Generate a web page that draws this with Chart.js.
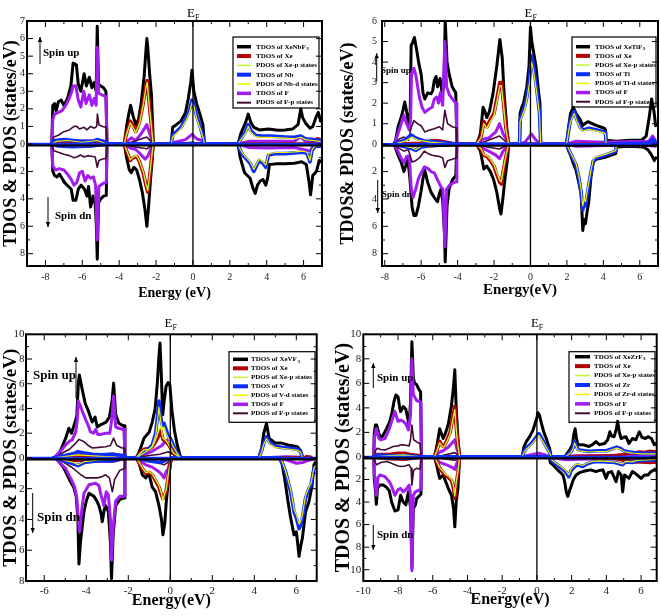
<!DOCTYPE html>
<html><head><meta charset="utf-8">
<script src="https://cdn.jsdelivr.net/npm/chart.js@4.4.1/dist/chart.umd.min.js"></script>
<style>
html,body{margin:0;padding:0;background:#fff;}
body{width:661px;height:616px;position:relative;overflow:hidden;}
canvas{position:absolute;display:block;}
</style></head><body>
<canvas id="c1" width="330" height="305" style="left:0;top:0"></canvas>
<canvas id="c2" width="331" height="305" style="left:330px;top:0"></canvas>
<canvas id="c3" width="330" height="311" style="left:0;top:305px"></canvas>
<canvas id="c4" width="331" height="311" style="left:330px;top:305px"></canvas>
<script>
// ---------------- DATA (energy eV, DOS states/eV; spin-down stored negative) ----------------
// Panel 1: XeNbF3
const p1_xticks = [-8,-6,-4,-2,0,2,4,6];
const p1_yticks = [-8,-6,-4,-2,0,1,2,3,4,5,6,7];
const p1_tot_up = [[-7.66,0],[-7.6,2.2],[-7.5,2.3],[-7.42,1.9],[-7.3,2.4],[-7.15,2.5],[-7.0,2.2],[-6.8,2.6],[-6.62,3.3],[-6.5,4.6],[-6.32,4.5],[-6.22,3.4],[-6.08,3.0],[-5.9,4.0],[-5.78,3.3],[-5.62,3.8],[-5.48,3.2],[-5.36,3.5],[-5.25,3.0],[-5.19,6.7],[-5.12,3.4],[-5.0,3.3],[-4.85,3.2],[-4.72,3.0],[-4.66,0],[-3.72,0],[-3.6,1.0],[-3.5,1.6],[-3.38,2.2],[-3.25,1.6],[-3.1,1.1],[-2.95,1.4],[-2.8,2.4],[-2.65,3.8],[-2.55,5.3],[-2.5,6.0],[-2.45,5.5],[-2.35,4.0],[-2.25,2.8],[-2.18,1.0],[-2.15,0],[-1.18,0],[-1.1,0.95],[-0.9,1.1],[-0.65,1.3],[-0.4,1.8],[-0.25,2.6],[-0.12,3.5],[-0.05,4.2],[0.05,3.0],[0.2,2.3],[0.35,1.8],[0.54,1.1],[0.63,0],[2.45,0],[2.6,0.6],[2.85,1.2],[3.0,1.7],[3.15,1.2],[3.3,0.95],[3.6,0.8],[4.1,0.85],[4.6,0.78],[5.0,0.8],[5.4,0.85],[5.7,1.1],[5.85,2.0],[5.95,1.5],[6.1,1.2],[6.35,0.9],[6.5,1.0],[6.7,1.6],[6.8,1.8],[6.92,1.3]];
const p1_tot_dn = [[-7.66,0],[-7.6,-2.0],[-7.5,-2.3],[-7.38,-2.4],[-7.24,-2.2],[-7.1,-2.5],[-6.97,-2.8],[-6.75,-3.1],[-6.6,-3.3],[-6.5,-4.1],[-6.35,-4.1],[-6.22,-3.3],[-6.06,-3.0],[-5.88,-3.3],[-5.75,-3.8],[-5.66,-3.1],[-5.55,-4.6],[-5.42,-3.8],[-5.3,-4.4],[-5.24,-5.9],[-5.19,-8.4],[-5.12,-4.3],[-5.0,-4.0],[-4.85,-3.8],[-4.7,-3.75],[-4.66,0],[-3.72,0],[-3.6,-1.0],[-3.45,-1.9],[-3.35,-2.1],[-3.2,-1.7],[-3.05,-1.9],[-2.9,-2.6],[-2.75,-3.5],[-2.6,-4.8],[-2.5,-6.0],[-2.42,-4.8],[-2.3,-2.6],[-2.2,-1.0],[-2.16,0],[2.45,0],[2.55,-0.9],[2.66,-1.45],[2.8,-2.1],[2.95,-2.3],[3.1,-2.5],[3.25,-3.2],[3.38,-3.6],[3.5,-3.0],[3.65,-2.7],[3.8,-2.6],[3.95,-3.0],[4.05,-2.5],[4.15,-1.5],[4.5,-1.45],[5.0,-1.45],[5.5,-1.4],[5.9,-1.3],[6.15,-1.5],[6.3,-2.8],[6.38,-3.7],[6.5,-2.3],[6.7,-2.0],[6.85,-1.2],[6.95,-1.3]];
const p1_xe_up = [[-7.66,0],[-7.0,0.1],[-5.5,0.15],[-4.66,0],[-3.72,0],[-3.6,0.6],[-3.4,1.3],[-3.25,1.05],[-3.1,0.7],[-2.9,1.25],[-2.7,2.3],[-2.55,3.3],[-2.48,3.6],[-2.4,2.6],[-2.25,1.0],[-2.16,0],[6.4,0],[6.6,0.2],[6.75,0.3],[6.9,0.25]];
const p1_xe_dn = [[-3.72,0],[-3.6,-0.5],[-3.4,-1.2],[-3.25,-1.0],[-3.05,-0.9],[-2.9,-1.3],[-2.7,-2.1],[-2.55,-3.0],[-2.45,-3.5],[-2.35,-2.4],[-2.22,-0.8],[-2.16,0]];
const p1_xep_up = [[-3.72,0],[-3.6,0.55],[-3.4,1.2],[-3.25,0.95],[-3.1,0.65],[-2.9,1.15],[-2.7,2.2],[-2.55,3.2],[-2.48,3.5],[-2.4,2.5],[-2.25,0.95],[-2.16,0]];
const p1_xep_dn = [[-3.72,0],[-3.6,-0.45],[-3.4,-1.15],[-3.25,-0.95],[-3.05,-0.85],[-2.9,-1.25],[-2.7,-2.0],[-2.55,-2.9],[-2.45,-3.4],[-2.35,-2.3],[-2.22,-0.75],[-2.16,0]];
const p1_m_up = [[-7.66,0],[-7.5,0.2],[-7.0,0.25],[-6.5,0.2],[-6.0,0.15],[-5.5,0.15],[-5.2,0.25],[-4.7,0.1],[-4.66,0],[-1.18,0],[-1.1,0.5],[-0.9,0.7],[-0.65,0.95],[-0.4,1.4],[-0.2,1.9],[-0.05,2.5],[0.05,2.3],[0.2,1.6],[0.4,0.95],[0.54,0.45],[0.63,0],[2.45,0],[2.6,0.3],[2.85,0.7],[3.0,1.1],[3.15,0.75],[3.4,0.5],[3.7,0.45],[4.2,0.45],[5.0,0.4],[5.5,0.38],[5.85,0.45],[6.1,0.3],[6.5,0.25],[6.9,0.2]];
const p1_m_dn = [[-7.66,0],[-7.3,-0.15],[-6.5,-0.2],[-5.5,-0.15],[-4.66,0],[2.45,0],[2.55,-0.4],[2.7,-0.8],[2.9,-1.1],[3.1,-1.4],[3.3,-2.0],[3.45,-1.6],[3.6,-1.2],[3.8,-1.4],[3.95,-1.7],[4.1,-0.8],[4.5,-0.7],[5.0,-0.7],[5.5,-0.65],[6.0,-0.6],[6.2,-0.7],[6.35,-1.3],[6.45,-0.5],[6.6,-0.2],[6.9,-0.15]];
const p1_md_up = [[-7.66,0],[-7.4,0.15],[-6.8,0.2],[-6.0,0.1],[-5.2,0.2],[-4.66,0],[-1.18,0],[-1.1,0.4],[-0.9,0.6],[-0.65,0.85],[-0.4,1.3],[-0.2,1.75],[-0.05,2.35],[0.05,2.15],[0.2,1.45],[0.4,0.85],[0.54,0.4],[0.63,0],[2.45,0],[2.6,0.25],[2.85,0.6],[3.0,1.0],[3.15,0.65],[3.4,0.42],[3.7,0.38],[4.2,0.38],[5.0,0.33],[5.5,0.3],[5.85,0.38],[6.1,0.25],[6.5,0.2],[6.9,0.15]];
const p1_md_dn = [[-7.66,0],[-7.0,-0.1],[-6.0,-0.12],[-4.66,0],[2.45,0],[2.55,-0.35],[2.7,-0.7],[2.9,-1.0],[3.1,-1.3],[3.3,-1.85],[3.45,-1.5],[3.6,-1.1],[3.8,-1.3],[3.95,-1.55],[4.1,-0.7],[4.5,-0.62],[5.0,-0.62],[5.5,-0.58],[6.0,-0.52],[6.2,-0.62],[6.35,-1.2],[6.45,-0.45],[6.6,-0.15],[6.9,-0.1]];
const p1_f_up = [[-7.66,0],[-7.6,1.4],[-7.5,1.7],[-7.3,1.8],[-7.1,1.9],[-6.9,2.2],[-6.75,2.5],[-6.6,2.9],[-6.5,3.3],[-6.35,3.3],[-6.22,2.5],[-6.08,2.1],[-5.92,3.0],[-5.8,2.3],[-5.62,2.8],[-5.48,2.2],[-5.35,2.6],[-5.25,2.2],[-5.19,5.5],[-5.12,2.9],[-4.95,2.8],[-4.72,2.7],[-4.66,0],[-3.72,0],[-3.5,0.2],[-3.35,0.35],[-3.1,0.2],[-2.8,0.6],[-2.5,1.1],[-2.35,0.6],[-2.16,0],[-1.18,0],[-1.0,0.1],[-0.4,0.25],[-0.05,0.55],[0.2,0.3],[0.6,0.15],[0.63,0],[2.45,0],[3.0,0.15],[4.0,0.15],[5.5,0.15],[5.85,0.4],[6.1,0.15],[6.9,0.1]];
const p1_f_dn = [[-7.66,0],[-7.6,-1.6],[-7.45,-1.9],[-7.25,-1.8],[-7.0,-1.9],[-6.8,-2.2],[-6.6,-2.6],[-6.45,-3.0],[-6.3,-2.8],[-6.15,-2.1],[-6.0,-2.0],[-5.85,-2.7],[-5.7,-2.3],[-5.55,-2.5],[-5.4,-2.4],[-5.28,-3.0],[-5.19,-7.0],[-5.1,-3.1],[-4.9,-2.9],[-4.7,-2.8],[-4.66,0],[-3.72,0],[-3.4,-0.3],[-3.1,-0.4],[-2.8,-0.8],[-2.6,-1.1],[-2.45,-0.9],[-2.3,-0.4],[-2.16,0],[2.45,0],[3.0,-0.25],[4.0,-0.3],[5.5,-0.25],[6.35,-0.5],[6.5,-0.2],[6.9,-0.15]];
const p1_fp_up = [[-7.66,0],[-7.55,0.4],[-7.3,0.5],[-7.0,0.7],[-6.7,0.8],[-6.45,1.0],[-6.3,1.0],[-6.15,0.85],[-5.9,0.95],[-5.75,0.8],[-5.55,1.0],[-5.35,0.9],[-5.22,1.0],[-5.18,1.7],[-5.1,1.1],[-4.9,1.0],[-4.7,0.95],[-4.66,0],[-3.72,0],[-3.35,0.1],[-2.5,0.4],[-2.16,0],[-1.18,0],[-0.05,0.1],[0.63,0]];
const p1_fp_dn = [[-7.66,0],[-7.55,-0.5],[-7.3,-0.6],[-7.0,-0.75],[-6.7,-0.85],[-6.45,-1.0],[-6.3,-0.95],[-6.1,-0.8],[-5.9,-0.95],[-5.7,-0.85],[-5.5,-0.9],[-5.3,-0.95],[-5.19,-1.7],[-5.1,-1.2],[-4.9,-1.1],[-4.7,-1.05],[-4.66,0],[-3.72,0],[-3.2,-0.2],[-2.5,-0.35],[-2.16,0]];

// Panel 2: XeTiF3
const p2_xticks = [-8,-6,-4,-2,0,2,4,6];
const p2_yticks = [-8,-6,-4,-2,0,1,2,3,4,5,6];
const p2_tot_up = [[-7.5,0],[-7.4,0.2],[-7.27,0.84],[-7.1,1.3],[-7.0,1.65],[-6.9,2.06],[-6.8,1.6],[-6.68,0.9],[-6.6,1.6],[-6.55,4.8],[-6.45,5.0],[-6.37,5.2],[-6.25,4.6],[-6.12,3.9],[-6.0,3.4],[-5.9,2.5],[-5.8,2.2],[-5.64,2.5],[-5.46,2.45],[-5.37,2.6],[-5.28,3.1],[-5.18,3.3],[-5.1,2.8],[-4.96,3.2],[-4.85,2.5],[-4.75,2.8],[-4.68,6.0],[-4.58,4.0],[-4.46,3.4],[-4.3,2.8],[-4.1,2.5],[-4.04,0],[-2.95,0],[-2.75,0.5],[-2.6,1.8],[-2.5,1.6],[-2.4,1.3],[-2.25,1.6],[-2.05,2.5],[-1.85,3.8],[-1.68,5.1],[-1.55,4.2],[-1.45,2.5],[-1.3,0.8],[-1.2,0],[-0.6,0],[-0.57,1.5],[-0.48,1.8],[-0.38,2.0],[-0.2,2.8],[-0.08,3.8],[0.0,5.7],[0.07,5.0],[0.15,4.6],[0.3,3.8],[0.45,2.5],[0.52,2.0],[0.56,0],[1.98,0],[2.1,0.9],[2.2,1.5],[2.35,1.8],[2.5,1.5],[2.7,1.25],[2.87,0.92],[3.15,1.1],[3.6,0.92],[4.05,0.78],[4.12,0.7],[4.15,0.2],[4.7,0.15],[5.5,0.2],[6.1,0.2],[6.35,0.4],[6.5,1.2],[6.65,2.2],[6.78,1.6],[6.87,0.9]];
const p2_tot_dn = [[-7.5,0],[-7.4,-0.3],[-7.27,-0.8],[-7.1,-1.3],[-6.95,-2.0],[-6.85,-1.6],[-6.73,-1.1],[-6.62,-2.5],[-6.5,-4.6],[-6.4,-5.2],[-6.28,-5.2],[-6.15,-4.5],[-6.0,-3.4],[-5.9,-2.5],[-5.8,-1.9],[-5.64,-2.8],[-5.46,-3.5],[-5.28,-3.9],[-5.1,-4.2],[-5.0,-3.6],[-4.92,-3.3],[-4.82,-4.1],[-4.72,-6.5],[-4.68,-8.6],[-4.58,-4.5],[-4.46,-3.2],[-4.28,-2.6],[-4.1,-2.3],[-4.04,0],[-2.95,0],[-2.75,-0.5],[-2.56,-1.8],[-2.4,-1.6],[-2.2,-2.0],[-2.02,-2.6],[-1.85,-3.5],[-1.68,-4.8],[-1.62,-5.1],[-1.5,-3.8],[-1.4,-2.5],[-1.25,-1.0],[-1.2,0],[1.98,0],[2.1,-0.5],[2.2,-0.8],[2.35,-1.4],[2.5,-1.9],[2.65,-2.8],[2.78,-3.6],[2.87,-6.3],[2.95,-5.5],[3.02,-5.8],[3.1,-5.0],[3.2,-4.2],[3.32,-2.4],[3.45,-1.3],[3.6,-1.1],[4.15,-0.93],[4.68,-0.68],[4.72,-0.2],[5.5,-0.15],[6.2,-0.2],[6.45,-0.4],[6.65,-0.8],[6.8,-1.2],[6.88,-1.0]];
const p2_xe_up = [[-7.5,0],[-6.0,0.05],[-5.3,0.18],[-4.9,0.15],[-4.04,0],[-2.95,0],[-2.7,0.4],[-2.56,1.1],[-2.4,0.84],[-2.2,1.2],[-2.0,1.5],[-1.85,2.2],[-1.68,3.0],[-1.6,3.0],[-1.5,2.2],[-1.35,0.8],[-1.2,0],[6.5,0],[6.7,0.1],[6.9,0.05]];
const p2_xe_dn = [[-7.5,0],[-5.5,-0.1],[-4.04,0],[-2.95,0],[-2.7,-0.4],[-2.56,-0.8],[-2.38,-0.9],[-2.2,-1.2],[-2.0,-1.6],[-1.85,-2.2],[-1.68,-2.8],[-1.6,-2.9],[-1.5,-2.0],[-1.35,-0.9],[-1.2,0]];
const p2_xep_up = [[-2.95,0],[-2.7,0.35],[-2.56,1.0],[-2.4,0.78],[-2.2,1.1],[-2.0,1.4],[-1.85,2.05],[-1.68,2.85],[-1.6,2.85],[-1.5,2.05],[-1.35,0.75],[-1.2,0]];
const p2_xep_dn = [[-2.95,0],[-2.7,-0.35],[-2.56,-0.75],[-2.38,-0.85],[-2.2,-1.1],[-2.0,-1.5],[-1.85,-2.05],[-1.68,-2.65],[-1.6,-2.75],[-1.5,-1.9],[-1.35,-0.85],[-1.2,0]];
const p2_m_up = [[-7.5,0],[-7.2,0.1],[-6.9,0.2],[-6.55,0.45],[-6.3,0.3],[-5.8,0.15],[-5.0,0.1],[-4.04,0],[-0.6,0],[-0.57,1.2],[-0.45,1.5],[-0.3,1.9],[-0.2,2.3],[-0.05,3.2],[0.06,4.3],[0.15,3.9],[0.33,2.8],[0.5,1.5],[0.56,0],[1.98,0],[2.1,0.7],[2.2,1.2],[2.4,1.6],[2.55,1.2],[2.75,0.8],[2.9,0.7],[3.2,0.78],[3.6,0.7],[4.05,0.6],[4.12,0.55],[4.15,0],[6.5,0.05],[6.7,0.25],[6.85,0.1]];
const p2_m_dn = [[-7.5,0],[-7.0,-0.15],[-6.55,-0.3],[-6.3,-0.45],[-6.0,-0.2],[-5.5,-0.1],[-4.04,0],[1.98,0],[2.1,-0.4],[2.25,-0.8],[2.5,-1.5],[2.65,-2.4],[2.78,-3.5],[2.87,-4.8],[2.95,-4.2],[3.02,-4.5],[3.1,-3.8],[3.2,-3.0],[3.3,-2.2],[3.45,-1.2],[3.6,-1.0],[4.1,-0.8],[4.6,-0.55],[4.68,-0.5],[4.72,0]];
const p2_md_up = [[-7.5,0],[-6.9,0.15],[-6.5,0.35],[-6.2,0.2],[-5.5,0.1],[-4.04,0],[-0.6,0],[-0.57,1.1],[-0.45,1.4],[-0.3,1.75],[-0.2,2.15],[-0.05,3.0],[0.06,4.0],[0.15,3.65],[0.33,2.6],[0.5,1.4],[0.56,0],[1.98,0],[2.1,0.65],[2.2,1.1],[2.4,1.5],[2.55,1.1],[2.75,0.75],[2.9,0.65],[3.2,0.72],[3.6,0.65],[4.05,0.55],[4.12,0.5],[4.15,0]];
const p2_md_dn = [[-7.5,0],[-6.5,-0.25],[-6.3,-0.4],[-6.0,-0.15],[-4.04,0],[1.98,0],[2.1,-0.35],[2.25,-0.75],[2.5,-1.4],[2.65,-2.25],[2.78,-3.3],[2.87,-4.5],[2.95,-3.95],[3.02,-4.2],[3.1,-3.55],[3.2,-2.8],[3.3,-2.05],[3.45,-1.1],[3.6,-0.92],[4.1,-0.74],[4.6,-0.5],[4.68,-0.46],[4.72,0]];
const p2_f_up = [[-7.5,0],[-7.35,0.3],[-7.1,1.0],[-6.95,1.4],[-6.8,1.0],[-6.65,0.7],[-6.58,1.2],[-6.53,3.4],[-6.4,3.7],[-6.28,3.3],[-6.1,2.3],[-5.95,1.8],[-5.8,1.55],[-5.6,1.7],[-5.4,1.8],[-5.28,2.2],[-5.15,2.3],[-5.05,2.0],[-4.95,2.5],[-4.82,1.9],[-4.7,5.0],[-4.6,2.8],[-4.45,2.4],[-4.2,2.1],[-4.08,2.0],[-4.04,0],[-2.95,0],[-2.6,0.25],[-2.3,0.3],[-1.9,0.6],[-1.7,1.0],[-1.5,0.5],[-1.3,0.2],[-1.2,0],[-0.6,0],[-0.3,0.1],[0.05,0.5],[0.3,0.2],[0.56,0],[1.98,0],[2.5,0.15],[4.1,0.1],[6.5,0.15],[6.7,0.4],[6.85,0.2]];
const p2_f_dn = [[-7.5,0],[-7.35,-0.3],[-7.1,-1.0],[-6.95,-1.35],[-6.8,-0.9],[-6.65,-0.85],[-6.55,-3.2],[-6.45,-3.9],[-6.3,-3.3],[-6.15,-2.5],[-6.0,-2.1],[-5.82,-1.65],[-5.6,-1.8],[-5.46,-2.0],[-5.28,-2.1],[-5.1,-2.6],[-4.92,-3.1],[-4.8,-3.3],[-4.7,-7.5],[-4.6,-3.3],[-4.45,-3.0],[-4.2,-2.8],[-4.08,-2.75],[-4.04,0],[-2.95,0],[-2.6,-0.3],[-2.3,-0.5],[-1.9,-0.8],[-1.7,-1.05],[-1.5,-0.5],[-1.2,0],[1.98,0],[2.5,-0.15],[4.1,-0.1],[6.5,-0.1],[6.85,-0.15]];
const p2_fp_up = [[-7.5,0],[-7.2,0.25],[-6.95,0.35],[-6.7,0.2],[-6.55,0.8],[-6.4,1.15],[-6.2,1.0],[-6.0,0.9],[-5.8,0.6],[-5.5,0.7],[-5.28,0.75],[-5.0,0.85],[-4.82,0.7],[-4.7,1.65],[-4.55,1.0],[-4.3,0.85],[-4.08,0.8],[-4.04,0],[-2.95,0],[-2.6,0.1],[-1.7,0.4],[-1.2,0]];
const p2_fp_dn = [[-7.5,0],[-7.2,-0.3],[-6.95,-0.5],[-6.7,-0.4],[-6.5,-1.3],[-6.3,-1.2],[-6.1,-1.0],[-5.82,-0.5],[-5.6,-0.7],[-5.4,-0.8],[-5.2,-0.85],[-5.0,-0.9],[-4.82,-1.0],[-4.7,-1.7],[-4.55,-1.2],[-4.3,-1.1],[-4.08,-1.0],[-4.04,0],[-2.95,0],[-2.4,-0.2],[-1.7,-0.35],[-1.2,0]];

// Panel 3: XeVF3
const p3_xticks = [-6,-4,-2,0,2,4,6];
const p3_yticks = [-8,-6,-4,-2,0,2,4,6,8,10];
const p3_tot_up = [[-5.56,0],[-5.45,0.1],[-5.3,0.3],[-5.15,0.9],[-4.98,1.6],[-4.83,2.4],[-4.7,2.0],[-4.55,2.8],[-4.45,3.4],[-4.38,6.0],[-4.33,6.7],[-4.2,5.6],[-4.05,4.4],[-3.9,3.8],[-3.72,2.9],[-3.58,3.3],[-3.48,2.5],[-3.3,2.7],[-3.05,2.9],[-2.9,3.3],[-2.78,4.5],[-2.7,6.05],[-2.6,3.5],[-2.45,2.8],[-2.3,2.65],[-2.2,2.6],[-2.16,0],[-1.62,0],[-1.5,0.4],[-1.35,1.1],[-1.25,1.6],[-1.0,2.1],[-0.86,2.9],[-0.72,4.0],[-0.62,6.0],[-0.55,8.0],[-0.49,9.3],[-0.43,6.8],[-0.36,3.5],[-0.3,4.5],[-0.2,5.8],[-0.1,6.1],[-0.02,5.9],[0.08,3.8],[0.2,2.2],[0.33,1.05],[0.45,0.3],[0.5,0],[4.22,0],[4.35,0.8],[4.45,2.0],[4.58,2.8],[4.7,1.6],[4.85,1.4],[5.0,1.2],[5.3,1.2],[5.6,1.05],[6.05,0.9],[6.2,0.6],[6.3,0]];
const p3_tot_dn = [[-5.56,0],[-5.4,-0.1],[-5.3,-0.25],[-5.1,-0.6],[-4.98,-0.9],[-4.75,-1.55],[-4.6,-1.9],[-4.48,-2.5],[-4.4,-4.0],[-4.35,-6.9],[-4.28,-5.5],[-4.11,-3.5],[-4.0,-2.8],[-3.87,-2.3],[-3.63,-2.5],[-3.5,-2.8],[-3.4,-3.1],[-3.3,-3.6],[-3.24,-4.15],[-3.15,-3.4],[-3.08,-3.1],[-2.95,-3.5],[-2.85,-5.5],[-2.8,-7.85],[-2.72,-5.0],[-2.6,-3.1],[-2.4,-2.7],[-2.2,-2.6],[-2.16,0],[-1.62,0],[-1.5,-0.25],[-1.33,-1.1],[-1.17,-1.3],[-1.02,-1.0],[-0.86,-1.9],[-0.7,-2.2],[-0.54,-3.1],[-0.42,-4.0],[-0.35,-5.0],[-0.26,-4.2],[-0.2,-3.0],[-0.1,-1.55],[0.02,-0.25],[0.08,0],[5.2,0],[5.33,-0.45],[5.49,-1.75],[5.6,-2.8],[5.73,-3.9],[5.89,-5.0],[6.0,-4.8],[6.06,-5.5],[6.13,-6.4],[6.2,-5.8],[6.29,-5.2],[6.44,-3.5],[6.6,-2.85],[6.75,-1.8],[6.84,-0.45],[6.9,-0.3]];
const p3_xe_up = [[-5.5,0],[-4.8,0.15],[-4.4,0.2],[-3.5,0.2],[-2.7,0.3],[-2.2,0.1],[-2.16,0],[-1.62,0],[-1.45,0.4],[-1.25,0.7],[-1.0,0.75],[-0.85,0.9],[-0.7,1.3],[-0.55,1.8],[-0.45,2.2],[-0.35,1.5],[-0.2,1.3],[-0.05,1.0],[0.15,0.4],[0.4,0.1],[0.5,0],[6.4,0],[6.5,0.1],[6.7,0.05]];
const p3_xe_dn = [[-5.56,0],[-4.6,-0.15],[-3.5,-0.2],[-2.7,-0.2],[-2.16,0],[-1.62,0],[-1.45,-0.4],[-1.33,-0.7],[-1.17,-1.0],[-1.0,-0.95],[-0.86,-1.1],[-0.7,-1.5],[-0.54,-1.9],[-0.42,-2.4],[-0.35,-2.65],[-0.26,-2.4],[-0.2,-2.2],[-0.1,-1.2],[0.0,-0.3],[0.08,0]];
const p3_xep_up = [[-1.62,0],[-1.45,0.35],[-1.25,0.65],[-1.0,0.7],[-0.85,0.9],[-0.7,1.5],[-0.55,2.2],[-0.45,2.6],[-0.35,1.6],[-0.2,1.4],[-0.05,1.0],[0.15,0.4],[0.4,0.1],[0.5,0]];
const p3_xep_dn = [[-1.62,0],[-1.45,-0.35],[-1.33,-0.65],[-1.17,-0.95],[-1.0,-0.9],[-0.86,-1.05],[-0.7,-1.4],[-0.54,-1.8],[-0.42,-2.3],[-0.35,-2.75],[-0.26,-2.3],[-0.2,-2.1],[-0.1,-1.1],[0.0,-0.25],[0.08,0]];
const p3_m_up = [[-5.56,0],[-5.0,0.2],[-4.6,0.35],[-4.4,0.5],[-4.1,0.4],[-3.7,0.3],[-3.3,0.25],[-2.8,0.3],[-2.2,0.2],[-2.16,0],[-1.62,0],[-1.4,0.3],[-1.2,0.5],[-1.0,0.8],[-0.86,1.05],[-0.7,2.0],[-0.6,3.5],[-0.54,4.6],[-0.45,3.2],[-0.38,2.6],[-0.3,2.8],[-0.22,2.4],[-0.1,1.8],[0.0,1.6],[0.15,1.0],[0.3,0.5],[0.45,0.1],[0.5,0],[4.22,0],[4.35,0.6],[4.45,1.2],[4.58,1.7],[4.75,1.2],[5.0,0.95],[5.3,0.85],[5.6,0.8],[6.05,0.7],[6.2,0.5],[6.3,0]];
const p3_m_dn = [[-5.56,0],[-5.0,-0.2],[-4.6,-0.4],[-4.4,-0.5],[-4.1,-0.3],[-3.5,-0.2],[-2.8,-0.2],[-2.16,0],[-1.62,0],[-1.0,-0.2],[-0.5,-0.3],[0.08,0],[5.2,0],[5.33,-0.3],[5.49,-0.9],[5.6,-1.5],[5.73,-2.2],[5.89,-3.5],[6.0,-3.9],[6.13,-4.6],[6.2,-4.4],[6.29,-3.9],[6.44,-2.6],[6.6,-2.0],[6.7,-1.75],[6.84,-0.7],[6.9,-0.6]];
const p3_md_up = [[-5.56,0],[-4.4,0.25],[-3.5,0.15],[-2.16,0],[-1.62,0],[-1.4,0.25],[-1.2,0.45],[-1.0,0.7],[-0.86,0.95],[-0.7,1.8],[-0.6,3.1],[-0.54,4.1],[-0.45,2.9],[-0.38,2.3],[-0.3,2.5],[-0.22,2.1],[-0.1,1.6],[0.0,1.4],[0.15,0.9],[0.3,0.45],[0.45,0.05],[0.5,0],[4.22,0],[4.35,0.5],[4.45,1.1],[4.58,1.55],[4.75,1.1],[5.0,0.85],[5.3,0.78],[5.6,0.72],[6.05,0.62],[6.2,0.45],[6.3,0]];
const p3_md_dn = [[-5.56,0],[-4.6,-0.3],[-4.4,-0.45],[-4.1,-0.25],[-3.5,-0.15],[-2.16,0],[5.2,0],[5.33,-0.25],[5.49,-0.85],[5.6,-1.4],[5.73,-2.05],[5.89,-3.3],[6.0,-3.7],[6.13,-4.3],[6.2,-4.15],[6.29,-3.7],[6.44,-2.45],[6.6,-1.9],[6.7,-1.65],[6.84,-0.65],[6.9,-0.55]];
const p3_f_up = [[-5.56,0],[-5.4,0.25],[-5.15,0.7],[-4.98,1.05],[-4.8,1.35],[-4.67,1.45],[-4.5,2.1],[-4.42,3.2],[-4.38,4.6],[-4.3,4.3],[-4.15,3.6],[-4.03,3.1],[-3.9,2.6],[-3.8,2.1],[-3.65,2.0],[-3.56,2.3],[-3.45,1.9],[-3.3,1.9],[-3.08,2.0],[-2.88,2.0],[-2.78,3.2],[-2.7,5.0],[-2.6,2.5],[-2.45,2.4],[-2.25,2.3],[-2.2,2.3],[-2.16,0],[-1.62,0],[-1.2,0.3],[-0.9,0.5],[-0.6,0.8],[-0.4,1.0],[-0.3,1.2],[-0.1,1.5],[-0.02,1.65],[0.1,1.0],[0.3,0.4],[0.5,0],[4.22,0],[5.5,0.1],[6.3,0.05]];
const p3_f_dn = [[-5.56,0],[-5.4,-0.1],[-5.2,-0.4],[-4.98,-0.7],[-4.75,-1.3],[-4.55,-1.9],[-4.45,-2.6],[-4.38,-4.0],[-4.32,-4.8],[-4.2,-3.2],[-4.11,-2.3],[-3.87,-1.75],[-3.56,-1.65],[-3.4,-1.8],[-3.3,-2.4],[-3.16,-3.1],[-3.05,-2.2],[-2.95,-2.4],[-2.85,-4.0],[-2.8,-6.65],[-2.72,-4.5],[-2.6,-2.8],[-2.4,-2.5],[-2.2,-2.5],[-2.16,0],[-1.62,0],[-1.17,-0.45],[-0.86,-0.6],[-0.54,-0.9],[-0.4,-1.1],[-0.3,-1.3],[-0.2,-0.9],[-0.1,-0.7],[0.0,-0.2],[0.08,0],[5.2,0],[5.7,-0.2],[6.0,-0.35],[6.3,-0.3],[6.6,-0.15],[6.9,-0.05]];
const p3_fp_up = [[-5.56,0],[-5.3,0.15],[-5.14,0.4],[-4.8,0.7],[-4.5,1.2],[-4.35,1.5],[-4.1,1.3],[-3.9,1.0],[-3.71,0.8],[-3.4,0.85],[-3.08,0.9],[-2.85,1.0],[-2.7,1.6],[-2.55,1.0],[-2.3,0.8],[-2.2,0.8],[-2.16,0],[-1.62,0],[-1.0,0.2],[-0.5,0.3],[-0.1,0.5],[0.2,0.2],[0.5,0]];
const p3_fp_dn = [[-5.56,0],[-5.3,-0.1],[-5.0,-0.35],[-4.7,-0.6],[-4.43,-0.9],[-4.25,-1.1],[-4.03,-1.3],[-3.8,-1.3],[-3.5,-1.3],[-3.3,-1.25],[-3.08,-1.1],[-2.9,-1.3],[-2.76,-2.2],[-2.65,-1.4],[-2.4,-0.8],[-2.2,-0.7],[-2.16,0],[-1.62,0],[-1.2,-0.15],[-0.6,-0.3],[-0.3,-0.45],[0.0,-0.2],[0.08,0]];

// Panel 4: XeZrF3
const p4_xticks = [-10,-8,-6,-4,-2,0,2,4,6];
const p4_yticks = [-10,-8,-6,-4,-2,0,2,4,6,8,10];
const p4_tot_up = [[-9.4,0],[-9.37,1.9],[-9.3,2.6],[-9.23,2.6],[-9.1,1.9],[-9.0,1.5],[-8.85,1.8],[-8.66,2.3],[-8.47,2.9],[-8.35,3.6],[-8.22,4.6],[-8.12,5.05],[-8.0,4.9],[-7.9,4.0],[-7.85,3.7],[-7.7,4.1],[-7.55,3.9],[-7.45,3.2],[-7.36,2.6],[-7.28,4.5],[-7.2,9.4],[-7.12,6.5],[-7.05,6.0],[-6.93,5.9],[-6.8,5.5],[-6.7,5.3],[-6.65,0],[-5.9,0],[-5.75,1.0],[-5.6,2.3],[-5.5,1.9],[-5.4,1.5],[-5.25,2.0],[-5.1,2.7],[-4.92,4.2],[-4.8,5.8],[-4.73,7.1],[-4.65,4.0],[-4.55,1.5],[-4.45,0],[-0.85,0],[-0.75,0.8],[-0.61,1.25],[-0.42,1.65],[-0.25,2.1],[-0.13,2.6],[0.0,3.2],[0.06,3.6],[0.15,3.4],[0.25,2.8],[0.4,2.0],[0.54,1.5],[0.65,1.0],[0.73,0.7],[0.82,0],[1.6,0],[1.75,0.3],[1.9,0.6],[2.05,1.0],[2.12,1.8],[2.2,2.3],[2.28,1.5],[2.36,1.0],[2.64,1.0],[3.0,0.85],[3.2,1.0],[3.4,1.25],[3.6,1.0],[3.9,1.1],[4.08,1.4],[4.2,2.05],[4.3,1.7],[4.45,1.65],[4.58,2.3],[4.65,2.9],[4.75,2.0],[4.85,1.5],[5.0,1.6],[5.13,1.65],[5.3,1.1],[5.5,1.5],[5.7,1.4],[5.9,2.05],[6.05,1.6],[6.25,1.5],[6.4,1.65],[6.6,1.5],[6.76,1.0],[6.9,1.1]];
const p4_tot_dn = [[-9.4,0],[-9.37,-1.9],[-9.3,-3.0],[-9.25,-4.2],[-9.18,-2.8],[-9.04,-2.5],[-8.85,-2.5],[-8.66,-2.7],[-8.5,-3.0],[-8.37,-4.0],[-8.18,-4.8],[-8.0,-4.7],[-7.85,-3.4],[-7.7,-4.0],[-7.55,-4.25],[-7.4,-3.1],[-7.28,-4.5],[-7.2,-9.85],[-7.12,-4.6],[-7.0,-4.25],[-6.93,-3.7],[-6.74,-3.4],[-6.68,-3.3],[-6.65,0],[-5.9,0],[-5.75,-0.9],[-5.6,-1.9],[-5.4,-1.6],[-5.25,-2.2],[-5.1,-2.8],[-4.92,-3.4],[-4.8,-4.6],[-4.73,-6.2],[-4.65,-4.0],[-4.55,-2.8],[-4.45,0],[0.7,0],[0.78,-0.5],[0.92,-0.7],[1.1,-1.0],[1.3,-1.3],[1.5,-1.6],[1.6,-2.2],[1.69,-3.1],[1.78,-3.5],[1.88,-3.0],[1.97,-2.6],[2.1,-2.0],[2.26,-1.6],[2.45,-1.4],[2.64,-1.3],[2.9,-1.2],[3.1,-1.15],[3.4,-1.3],[3.6,-1.2],[3.8,-1.15],[3.98,-1.9],[4.1,-1.4],[4.3,-1.3],[4.56,-2.2],[4.7,-1.3],[4.85,-1.6],[4.94,-3.1],[5.05,-1.6],[5.3,-1.9],[5.5,-1.3],[5.7,-1.5],[6.0,-1.9],[6.2,-1.6],[6.4,-1.6],[6.57,-1.3],[6.76,-1.15],[6.9,-1.2]];
const p4_xe_up = [[-9.4,0],[-9.3,0.2],[-8.5,0.2],[-8.0,0.3],[-7.6,0.3],[-7.3,0.2],[-6.7,0.1],[-6.65,0],[-5.9,0],[-5.75,0.6],[-5.6,1.25],[-5.45,0.9],[-5.35,0.85],[-5.2,1.3],[-5.0,2.0],[-4.85,3.2],[-4.73,4.1],[-4.65,2.5],[-4.55,1.0],[-4.45,0],[1.6,0],[3.0,0.05],[4.5,0.1],[5.0,0.2],[5.3,0.35],[5.6,0.3],[5.9,0.4],[6.2,0.35],[6.5,0.45],[6.9,0.4]];
const p4_xe_dn = [[-9.4,0],[-8.5,-0.15],[-7.6,-0.2],[-6.65,0],[-5.9,0],[-5.75,-0.5],[-5.6,-1.0],[-5.45,-1.3],[-5.3,-1.6],[-5.1,-1.8],[-4.92,-2.1],[-4.8,-2.8],[-4.73,-3.65],[-4.65,-2.5],[-4.55,-1.4],[-4.45,0],[0.7,0],[3.0,-0.05],[4.5,-0.15],[5.0,-0.3],[5.5,-0.45],[6.0,-0.45],[6.5,-0.5],[6.9,-0.45]];
const p4_xep_up = [[-9.4,0],[-8.5,0.1],[-7.6,0.15],[-6.65,0],[-5.9,0],[-5.75,0.55],[-5.6,1.15],[-5.45,0.85],[-5.35,0.8],[-5.2,1.2],[-5.0,1.85],[-4.85,3.0],[-4.73,3.85],[-4.65,2.3],[-4.55,0.9],[-4.45,0]];
const p4_xep_dn = [[-5.9,0],[-5.75,-0.45],[-5.6,-0.95],[-5.45,-1.2],[-5.3,-1.5],[-5.1,-1.7],[-4.92,-2.0],[-4.8,-2.6],[-4.73,-3.45],[-4.65,-2.3],[-4.55,-1.3],[-4.45,0]];
const p4_m_up = [[-9.4,0],[-9.2,0.15],[-8.5,0.1],[-7.5,0.1],[-6.65,0],[-0.85,0],[-0.75,0.4],[-0.61,0.7],[-0.4,1.0],[-0.2,1.3],[0.0,1.7],[0.11,1.9],[0.25,1.6],[0.4,1.2],[0.6,0.7],[0.75,0.3],[0.82,0],[1.6,0],[1.75,0.15],[1.95,0.4],[2.07,0.7],[2.17,1.25],[2.3,0.8],[2.4,0.57],[3.0,0.45],[3.5,0.5],[4.0,0.5],[4.3,0.65],[4.6,0.8],[4.8,0.7],[5.0,0.5],[5.3,0.4],[5.6,0.35],[6.0,0.3],[6.5,0.3],[6.9,0.3]];
const p4_m_dn = [[-9.4,0],[-8.5,-0.1],[-7.5,-0.12],[-6.65,0],[0.7,0],[0.8,-0.2],[0.92,-0.4],[1.1,-0.6],[1.3,-0.85],[1.5,-1.1],[1.65,-1.3],[1.84,-1.75],[1.97,-1.2],[2.15,-0.9],[2.3,-0.7],[2.64,-0.85],[2.9,-0.6],[3.2,-0.45],[3.6,-0.4],[4.0,-0.45],[4.5,-0.5],[4.94,-0.7],[5.1,-0.45],[5.5,-0.5],[5.8,-0.35],[6.2,-0.3],[6.9,-0.25]];
const p4_md_up = [[-0.85,0],[-0.75,0.35],[-0.61,0.62],[-0.4,0.9],[-0.2,1.18],[0.0,1.55],[0.11,1.75],[0.25,1.45],[0.4,1.1],[0.6,0.62],[0.75,0.25],[0.82,0],[1.6,0],[1.75,0.12],[1.95,0.35],[2.07,0.62],[2.17,1.12],[2.3,0.72],[2.4,0.5],[3.0,0.4],[3.5,0.44],[4.0,0.44],[4.3,0.58],[4.6,0.72],[4.8,0.62],[5.0,0.44],[5.3,0.35],[5.6,0.3],[6.0,0.25],[6.5,0.25],[6.9,0.25]];
const p4_md_dn = [[0.7,0],[0.8,-0.17],[0.92,-0.35],[1.1,-0.54],[1.3,-0.76],[1.5,-1.0],[1.65,-1.18],[1.84,-1.6],[1.97,-1.08],[2.15,-0.8],[2.3,-0.62],[2.64,-0.76],[2.9,-0.54],[3.2,-0.4],[3.6,-0.35],[4.0,-0.4],[4.5,-0.45],[4.94,-0.62],[5.1,-0.4],[5.5,-0.44],[5.8,-0.3],[6.2,-0.26],[6.9,-0.22]];
const p4_f_up = [[-9.4,0],[-9.37,1.5],[-9.25,2.3],[-9.1,1.5],[-9.0,1.4],[-8.75,1.5],[-8.5,2.3],[-8.3,3.2],[-8.18,3.7],[-8.0,2.9],[-7.85,3.0],[-7.7,2.9],[-7.55,2.7],[-7.4,2.2],[-7.28,3.4],[-7.2,8.0],[-7.12,5.1],[-6.93,4.6],[-6.74,4.5],[-6.68,4.4],[-6.65,0],[-5.9,0],[-5.6,0.4],[-5.4,0.5],[-5.1,0.8],[-4.85,1.2],[-4.73,1.4],[-4.6,0.6],[-4.45,0],[-0.85,0],[-0.4,0.15],[0.1,0.3],[0.5,0.15],[0.82,0],[1.6,0],[2.2,0.1],[4.0,0.1],[5.0,0.15],[6.9,0.1]];
const p4_f_dn = [[-9.4,0],[-9.37,-1.3],[-9.3,-2.5],[-9.25,-3.4],[-9.15,-1.8],[-9.04,-1.6],[-8.75,-1.75],[-8.5,-2.2],[-8.37,-2.6],[-8.18,-3.4],[-8.0,-2.9],[-7.85,-2.8],[-7.7,-3.1],[-7.55,-2.9],[-7.36,-2.5],[-7.28,-3.4],[-7.2,-10.1],[-7.12,-3.4],[-7.0,-3.1],[-6.74,-2.9],[-6.68,-2.9],[-6.65,0],[-5.9,0],[-5.6,-0.5],[-5.2,-0.7],[-4.92,-0.9],[-4.73,-1.1],[-4.6,-0.5],[-4.45,0],[0.7,0],[1.0,-0.1],[1.7,-0.25],[2.5,-0.2],[4.0,-0.15],[5.5,-0.15],[6.9,-0.1]];
const p4_fp_up = [[-9.4,0],[-9.3,0.5],[-9.2,0.7],[-9.0,0.6],[-8.75,0.57],[-8.5,0.7],[-8.28,0.85],[-8.0,0.9],[-7.8,1.0],[-7.55,0.95],[-7.36,0.9],[-7.28,1.4],[-7.2,2.6],[-7.1,1.4],[-6.9,1.2],[-6.74,1.1],[-6.65,0],[-5.9,0],[-5.5,0.1],[-4.73,0.35],[-4.45,0]];
const p4_fp_dn = [[-9.4,0],[-9.3,-0.5],[-9.23,-0.7],[-9.0,-0.5],[-8.66,-0.4],[-8.4,-0.55],[-8.18,-0.7],[-7.99,-0.8],[-7.8,-0.85],[-7.6,-0.8],[-7.36,-0.7],[-7.25,-1.0],[-7.2,-2.5],[-7.1,-1.2],[-6.93,-1.0],[-6.74,-1.1],[-6.65,0],[-5.9,0],[-5.4,-0.15],[-4.73,-0.3],[-4.45,0]];

// Legend labels
const p1_labels = ['TDOS of XeNbF','TDOS of Xe','PDOS of Xe-p states','TDOS of Nb','PDOS of Nb-d states','TDOS of F','PDOS of F-p states'];
const p2_labels = ['TDOS of XeTiF','TDOS of Xe','PDOS of Xe-p states','TDOS of Ti','PDOS of Ti-d states','TDOS of F','PDOS of F-p states'];
const p3_labels = ['TDOS of XeVF','TDOS of Xe','PDOS of Xe-p states','TDOS of V','PDOS of V-d states','TDOS of F','PDOS of F-p states'];
const p4_labels = ['TDOS of XeZrF','TDOS of Xe','PDOS of Xe-p states','TDOS of Zr','PDOS of Zr-d states','TDOS of F','PDOS of F-p states'];

// ---------------- STYLE ----------------
const FONT = '"Liberation Serif","Times New Roman",serif';
const SERIES_KEYS = ['tot','xe','xep','m','md','f','fp'];
const SERIES_COLORS = ['#000000','#b40000','#c4f53a','#0b2dff','#f2f200','#a21cf0','#420c36'];
const SERIES_WIDTHS = [3,3.6,1.4,3.6,1.2,3,1.6];
const SERIES_ORDER = [6,3,1,2,0,5,4];
const LEGEND_WIDTHS = [3.5,4,1.6,4,1.6,3.5,2];

// Split linear scale: spin-up and spin-down halves use their own unit lengths
class SplitScale extends Chart.LinearScale {
  _zeroPx() { const f = this.options.zeroFrac; return this.top + (this.bottom - this.top) * (f == null ? 0.5 : f); }
  getPixelForValue(v) {
    if (v == null || isNaN(v)) return NaN;
    const z = this._zeroPx();
    return v >= 0 ? z - v / this.max * (z - this.top) : z + v / this.min * (this.bottom - z);
  }
  getValueForPixel(p) {
    const z = this._zeroPx();
    return p <= z ? (z - p) / (z - this.top) * this.max : (p - z) / (this.bottom - z) * this.min;
  }
}
SplitScale.id = 'split';
SplitScale.defaults = Chart.LinearScale.defaults;
Chart.register(SplitScale);

const PANELS = [
  {id:'c1', formula:'XeNbF', labels:p1_labels, xMin:-9, xMax:7, up:7, dn:8.9, zeroFrac:0.502,
   xTicks:p1_xticks, yTicks:p1_yticks, padTop:21, padRight:8, yW:27, xH:39, tickFont:10, xTickPad:5, yTickPad:2,
   xTitle:'Energy (eV)', xTitleSize:14, xTitlePad:3.6, yTitle:'TDOS & PDOS (states/eV)', yTitleSize:18, yTitlePad:1,
   legend:{x:233, y:37, w:86, h:71, row0:46.7, dy:9.33, lx0:237, lx1:251, tx:256, font:7},
   spin:{size:11, up:{tx:43, ty:56, ax:40, a0:64, a1:37}, dn:{tx:55, ty:219, ax:48, a0:197, a1:227}},
   ef:{dx:-6, dy:4, size:13},
   series:{tot:[p1_tot_up,p1_tot_dn], xe:[p1_xe_up,p1_xe_dn], xep:[p1_xep_up,p1_xep_dn], m:[p1_m_up,p1_m_dn], md:[p1_md_up,p1_md_dn], f:[p1_f_up,p1_f_dn], fp:[p1_fp_up,p1_fp_dn]}},
  {id:'c2', formula:'XeTiF', labels:p2_labels, xMin:-8.15, xMax:7, up:6, dn:8.9, zeroFrac:0.503,
   xTicks:p2_xticks, yTicks:p2_yticks, padTop:21, padRight:3, yW:52, xH:39, tickFont:10, xTickPad:5, yTickPad:5,
   xTitle:'Energy(eV)', xTitleSize:15, xTitlePad:6, yTitle:'TDOS& PDOS (states/eV)', yTitleSize:18, yTitlePad:8,
   legend:{x:242, y:37, w:84, h:70, row0:46.7, dy:9.17, lx0:246, lx1:260, tx:265, font:7},
   spin:{size:9, up:{tx:51, ty:73, ax:46.7, a0:81.7, a1:53.3}, dn:{tx:52, ty:196.7, ax:47.7, a0:180, a1:213}},
   ef:{dx:-6, dy:4, size:13},
   series:{tot:[p2_tot_up,p2_tot_dn], xe:[p2_xe_up,p2_xe_dn], xep:[p2_xep_up,p2_xep_dn], m:[p2_m_up,p2_m_dn], md:[p2_md_up,p2_md_dn], f:[p2_f_up,p2_f_dn], fp:[p2_fp_up,p2_fp_dn]}},
  {id:'c3', formula:'XeVF', labels:p3_labels, xMin:-6.87, xMax:6.97, up:10, dn:8, zeroFrac:0.501,
   xTicks:p3_xticks, yTicks:p3_yticks, padTop:29.3, padRight:13.3, yW:26, xH:35, tickFont:11, xTickPad:3.5, yTickPad:1.5,
   xTitle:'Energy(eV)', xTitleSize:16, xTitlePad:5.4, yTitle:'TDOS & PDOS (states/eV)', yTitleSize:19, yTitlePad:0,
   legend:{x:229, y:46.7, w:86, h:70.6, row0:54.3, dy:9.0, lx0:233, lx1:248, tx:251, font:7},
   spin:{size:13, up:{tx:33, ty:74, ax:76, a0:93, a1:52}, dn:{tx:37, ty:216, ax:32.7, a0:188, a1:228}},
   ef:{dx:-5.7, dy:7.6, size:13},
   series:{tot:[p3_tot_up,p3_tot_dn], xe:[p3_xe_up,p3_xe_dn], xep:[p3_xep_up,p3_xep_dn], m:[p3_m_up,p3_m_dn], md:[p3_md_up,p3_md_dn], f:[p3_f_up,p3_f_dn], fp:[p3_fp_up,p3_fp_dn]}},
  {id:'c4', formula:'XeZrF', labels:p4_labels, xMin:-10, xMax:6.9, up:10, dn:11, zeroFrac:0.497,
   xTicks:p4_xticks, yTicks:p4_yticks, padTop:29.3, padRight:4.3, yW:33.3, xH:35, tickFont:11, xTickPad:3.5, yTickPad:2,
   xTitle:'Energy(eV)', xTitleSize:16, xTitlePad:6.4, yTitle:'TDOS & PDOS (states/eV)', yTitleSize:20, yTitlePad:1.5,
   legend:{x:239, y:46.7, w:86, h:70.6, row0:51.7, dy:9.43, lx0:245, lx1:260, tx:264, font:7},
   spin:{size:11, up:{tx:47, ty:75.5, ax:43.3, a0:83, a1:58}, dn:{tx:47, ty:232.5, ax:43.3, a0:220, a1:245}},
   ef:{dx:-6, dy:7.6, size:13},
   series:{tot:[p4_tot_up,p4_tot_dn], xe:[p4_xe_up,p4_xe_dn], xep:[p4_xep_up,p4_xep_dn], m:[p4_m_up,p4_m_dn], md:[p4_md_up,p4_md_dn], f:[p4_f_up,p4_f_dn], fp:[p4_fp_up,p4_fp_dn]}}
];

function seg(ctx, x0, y0, x1, y1) { ctx.beginPath(); ctx.moveTo(x0, y0); ctx.lineTo(x1, y1); ctx.stroke(); }

function arrow(ctx, x, yTail, yHead) {
  ctx.strokeStyle = '#000'; ctx.fillStyle = '#000'; ctx.lineWidth = 1;
  seg(ctx, x, yTail, x, yHead);
  const d = yHead < yTail ? 1 : -1;
  ctx.beginPath(); ctx.moveTo(x, yHead); ctx.lineTo(x - 2.2, yHead + d * 5); ctx.lineTo(x + 2.2, yHead + d * 5); ctx.closePath(); ctx.fill();
}

function drawLegend(chart, P) {
  const ctx = chart.ctx, L = P.legend;
  ctx.save();
  ctx.fillStyle = '#fff'; ctx.fillRect(L.x, L.y, L.w, L.h);
  ctx.strokeStyle = '#000'; ctx.lineWidth = 1.2; ctx.strokeRect(L.x, L.y, L.w, L.h);
  P.labels.forEach((lab, i) => {
    const yy = L.row0 + i * L.dy;
    ctx.strokeStyle = SERIES_COLORS[i]; ctx.lineWidth = LEGEND_WIDTHS[i];
    seg(ctx, L.lx0, yy, L.lx1, yy);
    ctx.fillStyle = '#000'; ctx.textBaseline = 'middle'; ctx.textAlign = 'left';
    ctx.font = `bold ${L.font}px ${FONT}`;
    ctx.fillText(lab, L.tx, yy);
    if (i === 0) {
      const w = ctx.measureText(lab).width;
      ctx.font = `bold ${L.font - 2}px ${FONT}`;
      ctx.fillText('3', L.tx + w + 0.5, yy + 2.5);
    }
  });
  ctx.restore();
}

function drawDeco(chart, P) {
  const {ctx, chartArea: a, scales: {x, y}} = chart;
  ctx.save();
  // Fermi level line
  const x0 = x.getPixelForValue(0);
  ctx.strokeStyle = '#000'; ctx.lineWidth = 1.3;
  seg(ctx, x0, a.top, x0, a.bottom);
  // zero line
  const y0 = y.getPixelForValue(0);
  ctx.lineWidth = 3.4; ctx.strokeStyle = '#000'; seg(ctx, a.left, y0 + 0.8, a.right, y0 + 0.8);
  ctx.lineWidth = 1.6; ctx.strokeStyle = '#1030ff'; seg(ctx, a.left, y0 - 0.4, a.right, y0 - 0.4);
  // inward ticks
  ctx.strokeStyle = '#000'; ctx.lineWidth = 1;
  for (let v = Math.ceil(P.xMin); v <= P.xMax; v++) {
    const px = x.getPixelForValue(v);
    if (px <= a.left + 1 || px >= a.right - 1) continue;
    const len = (v % 2 === 0) ? 6 : 3;
    seg(ctx, px, a.bottom, px, a.bottom - len);
    seg(ctx, px, a.top, px, a.top + len);
  }
  for (let v = -Math.floor(P.dn); v <= P.up; v++) {
    const py = y.getPixelForValue(v);
    if (py <= a.top + 1 || py >= a.bottom - 1) continue;
    const len = P.yTicks.includes(v) ? 6 : 3;
    seg(ctx, a.left, py, a.left + len, py);
    seg(ctx, a.right, py, a.right - len, py);
  }
  // frame
  ctx.lineWidth = 2; ctx.strokeStyle = '#000';
  ctx.strokeRect(a.left, a.top, a.right - a.left, a.bottom - a.top);
  // E_F label
  ctx.fillStyle = '#000'; ctx.textAlign = 'left'; ctx.textBaseline = 'alphabetic';
  ctx.font = `${P.ef.size}px ${FONT}`;
  ctx.fillText('E', x0 + P.ef.dx, a.top - P.ef.dy);
  const ew = ctx.measureText('E').width;
  ctx.font = `${Math.round(P.ef.size * 0.6)}px ${FONT}`;
  ctx.fillText('F', x0 + P.ef.dx + ew, a.top - P.ef.dy + 3);
  // spin labels
  const S = P.spin;
  ctx.font = `bold ${S.size}px ${FONT}`;
  ctx.fillText('Spin up', S.up.tx, S.up.ty);
  ctx.fillText('Spin dn', S.dn.tx, S.dn.ty);
  arrow(ctx, S.up.ax, S.up.a0, S.up.a1);
  arrow(ctx, S.dn.ax, S.dn.a0, S.dn.a1);
  ctx.restore();
}

function build(P) {
  const datasets = [];
  SERIES_KEYS.forEach((k, i) => {
    P.series[k].forEach((arr, j) => {
      datasets.push({
        label: P.labels[i] + (j ? ' (dn)' : ' (up)'),
        data: arr.map(p => ({x: p[0], y: p[1]})),
        borderColor: SERIES_COLORS[i], borderWidth: SERIES_WIDTHS[i],
        pointRadius: 0, pointHoverRadius: 0, fill: false, tension: 0,
        order: SERIES_ORDER[i], borderJoinStyle: 'round', borderCapStyle: 'round'
      });
    });
  });
  new Chart(document.getElementById(P.id), {
    type: 'line',
    data: {datasets},
    options: {
      responsive: false, animation: false, events: [],
      layout: {padding: {top: P.padTop, right: P.padRight, left: 0, bottom: 0}},
      plugins: {legend: {display: false}, tooltip: {enabled: false}},
      scales: {
        x: {
          type: 'linear', min: P.xMin, max: P.xMax, bounds: 'data',
          grid: {display: false, drawTicks: false}, border: {display: false},
          ticks: {font: {family: FONT, size: P.tickFont}, color: '#222', padding: P.xTickPad, maxRotation: 0, autoSkip: false,
                  callback: v => String(v)},
          afterBuildTicks: s => { s.ticks = P.xTicks.map(v => ({value: v})); },
          afterFit: s => { s.height = P.xH; },
          title: {display: true, text: P.xTitle, color: '#000', font: {family: FONT, size: P.xTitleSize, weight: 'bold'},
                  padding: {top: 0, bottom: P.xTitlePad}}
        },
        y: {
          type: 'split', min: -P.dn, max: P.up, zeroFrac: P.zeroFrac, bounds: 'data',
          grid: {display: false, drawTicks: false}, border: {display: false},
          ticks: {font: {family: FONT, size: P.tickFont}, color: '#222', padding: P.yTickPad, autoSkip: false,
                  callback: v => String(Math.abs(v))},
          afterBuildTicks: s => { s.ticks = P.yTicks.map(v => ({value: v})); },
          afterFit: s => { s.width = P.yW; },
          title: {display: true, text: P.yTitle, color: '#000', font: {family: FONT, size: P.yTitleSize, weight: 'bold'},
                  padding: {top: P.yTitlePad, bottom: 0}}
        }
      }
    },
    plugins: [{
      id: 'deco',
      beforeDatasetsDraw(chart) { drawLegend(chart, P); },
      afterDatasetsDraw(chart) { drawDeco(chart, P); }
    }]
  });
}

PANELS.forEach(build);
</script>
</body></html>
